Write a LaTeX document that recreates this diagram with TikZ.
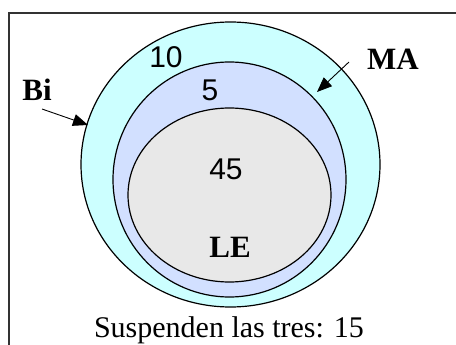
\documentclass[tikz,border=0pt]{standalone}
\usepackage{fontspec}
\setmainfont{Liberation Serif}
\newfontfamily\numfont{Liberation Sans}
\usetikzlibrary{arrows.meta,positioning}
\definecolor{ringbi}{HTML}{CCFFFF}
\definecolor{ringma}{HTML}{D2E0FF}
\definecolor{ringle}{HTML}{E8E8E8}
\tikzset{
  setline/.style={draw=black,line width=1.2pt},
  count/.style={inner sep=0pt,font=\numfont\fontsize{30}{32}\selectfont},
  setname/.style={inner sep=0pt,font=\bfseries\fontsize{31}{33}\selectfont},
  pointer/.style={line width=0.9pt,-{Triangle[length=15pt,width=12pt]}}
}
\begin{document}
\begin{tikzpicture}[x=1pt,y=-1pt]
            \useasboundingbox (0,0) rectangle (456,345);
            \clip (0,0) rectangle (456,345);
            \fill[white] (0,0) rectangle (456,345);% background
            \draw[line width=1.5pt,black!80] (9,13) rectangle (470,360);% the frame
            \filldraw[setline,fill=ringbi] (230.5,164.5) ellipse (149.5 and 142.5);% Bi
            \filldraw[setline,fill=ringma] (229.5,179.5) ellipse (116.5 and 117.5);% MA
            \filldraw[setline,fill=ringle] (229.5,195) ellipse (101.5 and 87);% LE
            \node[count] (n10) at (166,57) {10};% only Bi
            \node[count] (n5) at (210,90) {5};% Bi and MA
            \node[count] (n45) at (226,169) {45};% all three
            \node[setname] (le) at (230,247) {LE};
            \node[setname] (bi) at (37,90) {Bi};
            \node[setname] (ma) at (393,59) {MA};
            \coordinate (bitip) at (88,125);
            \coordinate (matip) at (317,92);
            \draw[pointer] ([shift={(5,8)}]bi.south) -- (bitip);% arrow to Bi
            \draw[pointer] ([shift={(-18,3)}]ma.west) -- (matip);% arrow to MA
            \node[anchor=base,inner sep=0pt,font=\fontsize{30}{32}\selectfont] (rest) at (229,337)
                {Suspenden las tres: 15};% none of the three
        \end{tikzpicture}
\end{document}
